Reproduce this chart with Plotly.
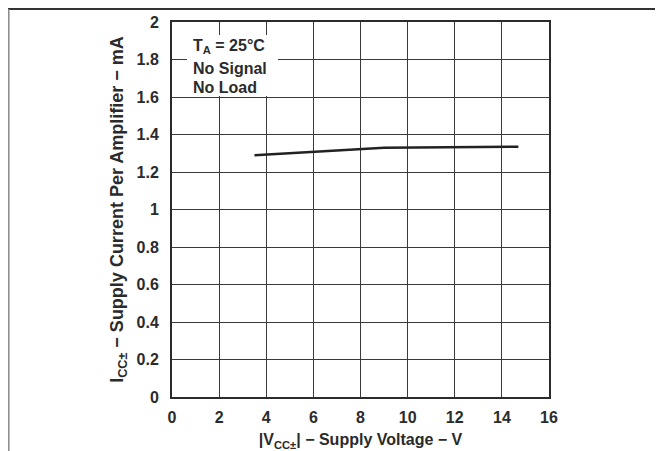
import plotly.graph_objects as go

# Data
supply_voltage = [3.5, 9.0, 14.7]
supply_current = [1.29, 1.33, 1.335]
x_ticks = [0, 2, 4, 6, 8, 10, 12, 14, 16]
y_ticks = [0, 0.2, 0.4, 0.6, 0.8, 1, 1.2, 1.4, 1.6, 1.8, 2]
y_tick_labels = ["0", "0.2", "0.4", "0.6", "0.8", "1", "1.2", "1.4", "1.6", "1.8", "2"]

# page has an 8px body margin; figure coordinates are page coordinates minus 8
OFF = 8
W, H = 663 - OFF, 451 - OFF
L, R, T, B = 172 - OFF, 549 - OFF, 22 - OFF, 397 - OFF
pw, ph = R - L, B - T

def px_x(p):
    return (p - OFF - L) / pw

def px_y(p):
    return (B - (p - OFF)) / ph

FONT = "Liberation Sans, Arial, sans-serif"
INK = "#2b2b2b"

fig = go.Figure()
fig.add_trace(go.Scatter(
    x=supply_voltage, y=supply_current, mode="lines",
    line=dict(color="#222222", width=2.5), showlegend=False, hoverinfo="skip"))

axis_common = dict(
    showgrid=True, gridcolor="#3a3a3a", gridwidth=1,
    showline=True, linecolor=INK, linewidth=2, mirror=True,
    zeroline=False, ticks="",
    tickfont=dict(family=FONT, size=16, color=INK, weight="bold"),
)

fig.update_xaxes(range=[0, 16], tickvals=x_ticks, ticktext=[str(v) for v in x_ticks],
                 ticklabelstandoff=5,
                 title=dict(text="<b>|V<sub>CC±</sub>| − Supply Voltage − V</b>", standoff=9,
                            font=dict(family=FONT, size=16, color=INK)),
                 **axis_common)
fig.update_yaxes(range=[0, 2], tickvals=y_ticks, ticktext=y_tick_labels,
                 ticklabelstandoff=8,
                 title=dict(text="<b>I<sub>CC±</sub> − Supply Current Per Amplifier − mA</b>", standoff=8,
                            font=dict(family=FONT, size=18, color=INK)),
                 **axis_common)

shapes = [
    # white box behind the condition text
    dict(type="rect", xref="paper", yref="paper",
         x0=px_x(187), x1=px_x(278), y0=px_y(96), y1=px_y(35),
         fillcolor="white", line=dict(width=0), layer="above"),
    # outer frame: top line
    dict(type="line", xref="paper", yref="paper",
         x0=px_x(OFF), x1=px_x(663), y0=px_y(OFF + 1), y1=px_y(OFF + 1),
         line=dict(color="#333333", width=2), layer="above"),
    # outer frame: left line
    dict(type="line", xref="paper", yref="paper",
         x0=px_x(OFF + 0.8), x1=px_x(OFF + 0.8), y0=px_y(OFF + 1), y1=px_y(451),
         line=dict(color="#888888", width=1.5), layer="above"),
]

cond_font = dict(family=FONT, size=16, color=INK)
annotations = [
    dict(xref="paper", yref="paper", x=px_x(191), y=px_y(47), xanchor="left", yanchor="middle",
         text="<b>T<sub>A</sub> = 25°C</b>", showarrow=False, font=cond_font),
    dict(xref="paper", yref="paper", x=px_x(191), y=px_y(68), xanchor="left", yanchor="middle",
         text="<b>No Signal</b>", showarrow=False, font=cond_font),
    dict(xref="paper", yref="paper", x=px_x(191), y=px_y(87), xanchor="left", yanchor="middle",
         text="<b>No Load</b>", showarrow=False, font=cond_font),
]

fig.update_layout(
    width=W, height=H,
    margin=dict(l=L, r=W - R, t=T, b=H - B, pad=0, autoexpand=False),
    paper_bgcolor="white", plot_bgcolor="white",
    shapes=shapes, annotations=annotations,
    font=dict(family=FONT, color=INK),
)

fig.write_html("out.html")
